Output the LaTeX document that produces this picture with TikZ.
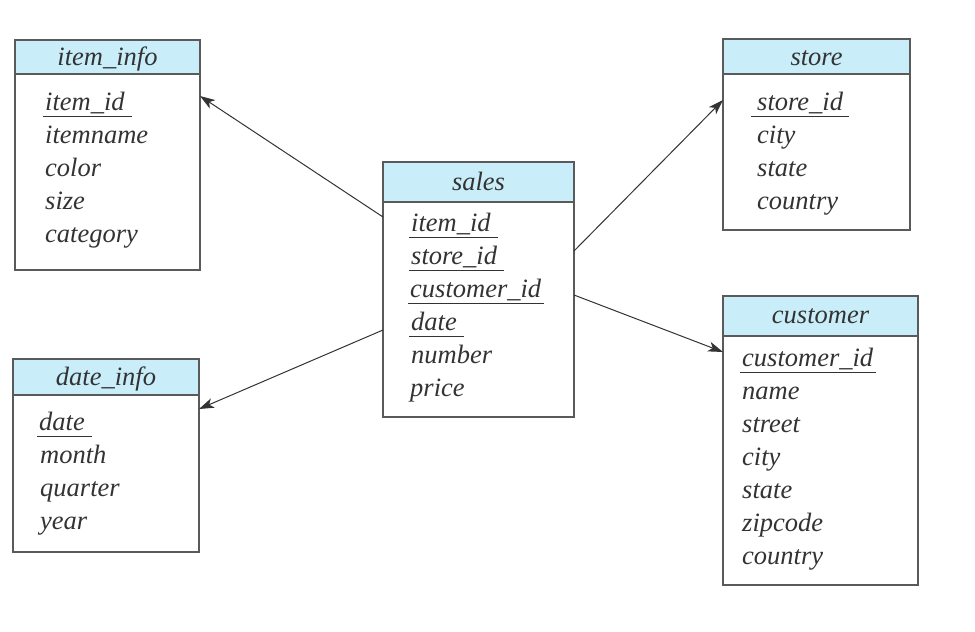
\documentclass[tikz,border=0pt]{standalone}
\usepackage{fontspec}
\setmainfont{Liberation Serif}
\usetikzlibrary{arrows.meta}
\definecolor{hdrfill}{HTML}{C9EEFA}
\definecolor{edge}{HTML}{5A5A5A}
\definecolor{ink}{HTML}{333333}
\begin{document}
\begin{tikzpicture}[x=1pt,y=-1pt,
  box/.style={draw=edge, line width=1.3pt, anchor=north west, inner sep=0pt, outer sep=0pt, fill=white},
  hdr/.style={box, fill=hdrfill},
  ttl/.style={anchor=base, inner sep=0pt, text=ink, font=\fontsize{26.5}{30}\selectfont\itshape},
  fld/.style={anchor=base west, inner sep=0pt, text=ink, font=\fontsize{26.5}{30}\selectfont\itshape},
  keyline/.style={draw=ink, line width=1pt},
  conn/.style={draw=ink, line width=1pt, -{Stealth[length=15pt,width=10pt,inset=4pt]}}]
\useasboundingbox (0,0) rectangle (975,632);

% item_info
\node[box, minimum width=185pt, minimum height=196pt] (iB) at (15,74) {};
\node[hdr, minimum width=185pt, minimum height=34pt] (iH) at (15,40) {};
\node[ttl] (iT) at (107.5,65) {item\_info};
\node[fld] (i1) at (45,110) {item\_id};
\node[fld] (i2) at (45,143) {itemname};
\node[fld] (i3) at (45,176) {color};
\node[fld] (i4) at (45,209) {size};
\node[fld] (i5) at (45,242) {category};
\draw[keyline] ([xshift=-2pt,yshift=-6pt]i1.base west) -- ([xshift=7pt,yshift=-6pt]i1.base east);

% date_info
\node[box, minimum width=186pt, minimum height=157pt] (dB) at (13,395) {};
\node[hdr, minimum width=186pt, minimum height=36pt] (dH) at (13,359) {};
\node[ttl] (dT) at (106,385) {date\_info};
\node[fld] (d1) at (39,430) {date};
\node[fld] (d2) at (40,463) {month};
\node[fld] (d3) at (40,496) {quarter};
\node[fld] (d4) at (40,529) {year};
\draw[keyline] ([xshift=-2pt,yshift=-6pt]d1.base west) -- ([xshift=7pt,yshift=-6pt]d1.base east);

% sales
\node[box, minimum width=191pt, minimum height=215pt] (sB) at (383,202) {};
\node[hdr, minimum width=191pt, minimum height=40pt] (sH) at (383,162) {};
\node[ttl] (sT) at (478.5,190) {sales};
\node[fld] (s1) at (411,231) {item\_id};
\node[fld] (s2) at (411,264) {store\_id};
\node[fld] (s3) at (410,297) {customer\_id};
\node[fld] (s4) at (411,330) {date};
\node[fld] (s5) at (411,363) {number};
\node[fld] (s6) at (410,396) {price};
\draw[keyline] ([xshift=-2pt,yshift=-6pt]s1.base west) -- ([xshift=7pt,yshift=-6pt]s1.base east);
\draw[keyline] ([xshift=-2pt,yshift=-6pt]s2.base west) -- ([xshift=7pt,yshift=-6pt]s2.base east);
\draw[keyline] ([xshift=-2pt,yshift=-6pt]s3.base west) -- ([xshift=3pt,yshift=-6pt]s3.base east);
\draw[keyline] ([xshift=-2pt,yshift=-6pt]s4.base west) -- ([xshift=7pt,yshift=-6pt]s4.base east);

% store
\node[box, minimum width=187pt, minimum height=156pt] (tB) at (723,74) {};
\node[hdr, minimum width=187pt, minimum height=35pt] (tH) at (723,39) {};
\node[ttl] (tT) at (816.5,65) {store};
\node[fld] (t1) at (757,110) {store\_id};
\node[fld] (t2) at (757,143) {city};
\node[fld] (t3) at (757,176) {state};
\node[fld] (t4) at (757,209) {country};
\draw[keyline] ([xshift=-6pt,yshift=-6pt]t1.base west) -- ([xshift=6pt,yshift=-6pt]t1.base east);

% customer
\node[box, minimum width=195pt, minimum height=249pt] (cB) at (723,336) {};
\node[hdr, minimum width=195pt, minimum height=40pt] (cH) at (723,296) {};
\node[ttl] (cT) at (820.5,323) {customer};
\node[fld] (c1) at (742,366) {customer\_id};
\node[fld] (c2) at (742,399) {name};
\node[fld] (c3) at (742,432) {street};
\node[fld] (c4) at (742,465) {city};
\node[fld] (c5) at (742,498) {state};
\node[fld] (c6) at (742,531) {zipcode};
\node[fld] (c7) at (742,564) {country};
\draw[keyline] ([xshift=-2pt,yshift=-6pt]c1.base west) -- ([xshift=3pt,yshift=-6pt]c1.base east);

% connectors
\draw[conn] ([yshift=-15pt]sB.north west) -- ([yshift=-22pt]iB.north east);
\draw[conn] ([yshift=-128pt]sB.north west) -- ([yshift=-14pt]dB.north east);
\draw[conn] ([yshift=-49pt]sB.north east) -- ([yshift=-26pt]tB.north west);
\draw[conn] ([yshift=-93pt]sB.north east) -- ([yshift=-16pt]cB.north west);
\end{tikzpicture}
\end{document}
